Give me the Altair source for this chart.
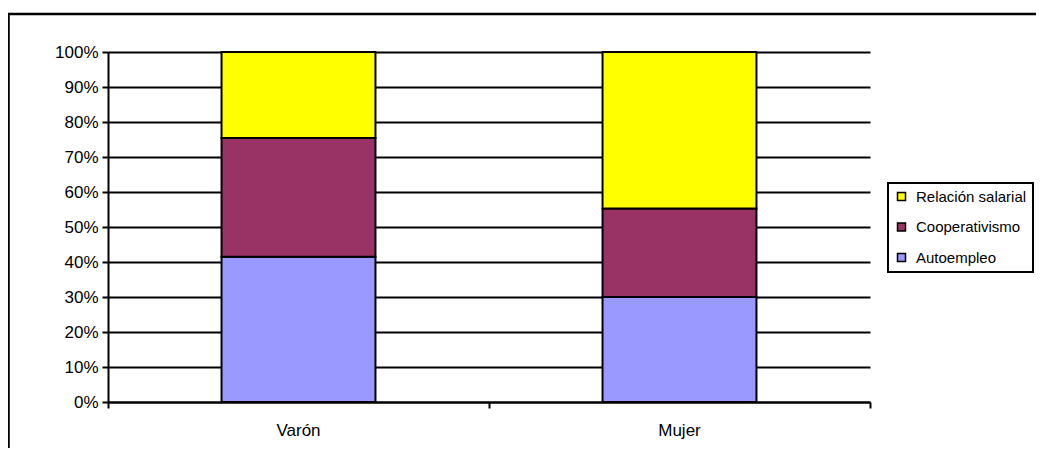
import altair as alt
import pandas as pd

groups = ["Varón", "Mujer"]
series = ["Autoempleo", "Cooperativismo", "Relación salarial"]
autoempleo = [41.5, 30.0]
cooperativismo = [33.9, 25.3]
relacion_salarial = [24.6, 44.7]
colors = ["#9999FF", "#993366", "#FFFF00"]
y_ticks = [i / 10 for i in range(11)]
x_bounds = [0, 1, 2]

rows = []
for gi, g in enumerate(groups):
    for si, (s, vals) in enumerate(zip(series, [autoempleo, cooperativismo, relacion_salarial])):
        rows.append({"grupo": g, "serie": s, "valor": vals[gi], "orden": si})
df = pd.DataFrame(rows)

FONT = "Liberation Sans, Arial"

bars = alt.Chart(df).mark_bar(stroke="black", strokeWidth=2).encode(
    x=alt.X("grupo:N", sort=groups,
            scale=alt.Scale(paddingInner=0.596, paddingOuter=0.298),
            axis=alt.Axis(orient="bottom", title=None, labelAngle=0, ticks=False,
                          domain=True, domainColor="black", domainWidth=2,
                          labelPadding=20, labelFontSize=17, labelColor="black",
                          labelFont=FONT)),
    y=alt.Y("valor:Q", stack="normalize",
            scale=alt.Scale(domain=[0, 1], nice=False),
            axis=alt.Axis(title=None, values=y_ticks, format=".0%",
                          grid=True, gridColor="black", gridWidth=2, gridOpacity=1,
                          domain=True, domainColor="black", domainWidth=2,
                          ticks=True, tickColor="black", tickWidth=2, tickSize=6,
                          labelPadding=4, labelFontSize=17, labelColor="black",
                          labelFont=FONT)),
    color=alt.Color("serie:N",
                    scale=alt.Scale(domain=series[::-1], range=colors[::-1]),
                    legend=alt.Legend(title=None, orient="none", legendX=780, legendY=131,
                                      symbolType="square", symbolSize=64,
                                      symbolStrokeColor="black", symbolStrokeWidth=1.5,
                                      symbolOpacity=1,
                                      labelFontSize=15, labelFont=FONT, labelColor="black",
                                      labelOffset=7, rowPadding=14.5,
                                      padding=6, strokeColor="black",
                                      fillColor="white")),
    order=alt.Order("orden:Q", sort="ascending"),
)

ticks_df = pd.DataFrame({"b": x_bounds})
tick_layer = alt.Chart(ticks_df).mark_point(opacity=0).encode(
    x=alt.X("b:Q", scale=alt.Scale(domain=[0, 2], nice=False, zero=False),
            axis=alt.Axis(orient="bottom", title=None, values=x_bounds, labels=False,
                          domain=False, grid=False, ticks=True, tickColor="black",
                          tickWidth=2, tickSize=6)),
)

frame = alt.Chart(pd.DataFrame({"f": [1]})).mark_rect(
    fill=None, stroke="black", strokeWidth=2.5
).encode(
    x=alt.value(-99.5), x2=alt.value(1100), y=alt.value(-38), y2=alt.value(600)
)

chart = alt.layer(frame, bars, tick_layer).resolve_scale(x="independent").resolve_axis(
    x="independent"
).properties(
    width=762, height=350,
    autosize=alt.AutoSizeParams(type="none"),
    padding={"left": 100, "top": 44, "right": 166, "bottom": 46},
    background="white",
).configure_view(stroke=None).configure_legend(strokeWidth=2)

chart.save("out.html", embed_options={"renderer": "svg", "actions": False})
